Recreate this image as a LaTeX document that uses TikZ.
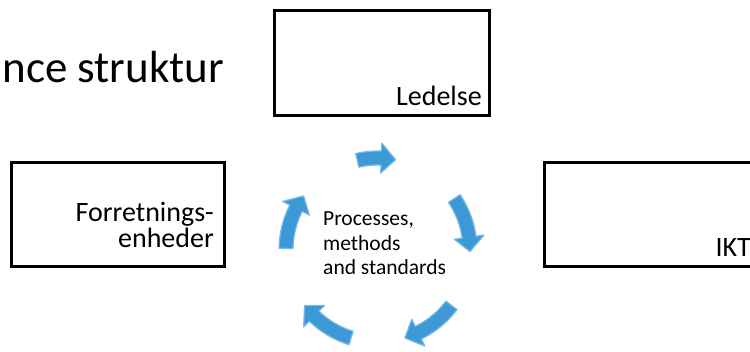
\documentclass[tikz,border=0pt]{standalone}
\usepackage{fontspec}
\setmainfont{Carlito}
\definecolor{cycblue}{RGB}{61,152,214}
\definecolor{cycedge}{RGB}{120,185,230}

\begin{document}
\begin{tikzpicture}[
  x=1pt, y=1pt,
  box/.style={draw, line width=3pt, inner sep=0pt},
  lbl/.style={inner sep=0pt, anchor=south east, align=right, font=\fontsize{28}{26.5}\selectfont},
  cyc/.style={fill=cycblue, draw=cycedge, line width=1.2pt, line join=round}
]
\useasboundingbox (0,0) rectangle (750,351);
\clip (0,0) rectangle (750,351);

% Title (cut at the left)
\node[inner sep=0pt, anchor=base east, font=\fontsize{45}{54}\selectfont] (title) at (224,268) {nce struktur};

% Boxes
\node[box, minimum width=215pt, minimum height=105pt] (ledelse) at (382,288)   {};
\node[box, minimum width=213pt, minimum height=104pt] (forr)    at (118,136.5) {};
\node[box, minimum width=215pt, minimum height=104pt] (ikt)     at (652,136.5) {};

\node[lbl] (ledelsetxt) at ([shift={(-9,11)}]ledelse.south east) {Ledelse};
\node[lbl] (forrtxt)    at ([shift={(-12,20)}]forr.south east)   {Forretnings-\\enheder};
\node[lbl] (ikttxt)     at ([shift={(-10,11)}]ikt.south east)    {IKT};

% Cycle of arrows
\coordinate (hub) at (378,101);
\foreach \aStart/\aEnd in {103/79, 34/-1, -37/-73, -107/-143, 179/144} {
  \pgfmathsetmacro\aNeck{\aEnd+9}
  \filldraw[cyc] ([shift={(hub)}]\aStart:99) arc[start angle=\aStart, end angle=\aNeck, radius=99pt]
    -- ([shift={(hub)}]\aNeck:107) -- ([shift={(hub)}]\aEnd:92) -- ([shift={(hub)}]\aNeck:77)
    -- ([shift={(hub)}]\aNeck:85) arc[start angle=\aNeck, end angle=\aStart, radius=85pt] -- cycle;
}

\node[inner sep=0pt, anchor=north west, align=left, font=\fontsize{21.5}{24.5}\selectfont] (pms) at (323,139)
  {Processes,\\methods\\and standards};

\end{tikzpicture}
\end{document}
